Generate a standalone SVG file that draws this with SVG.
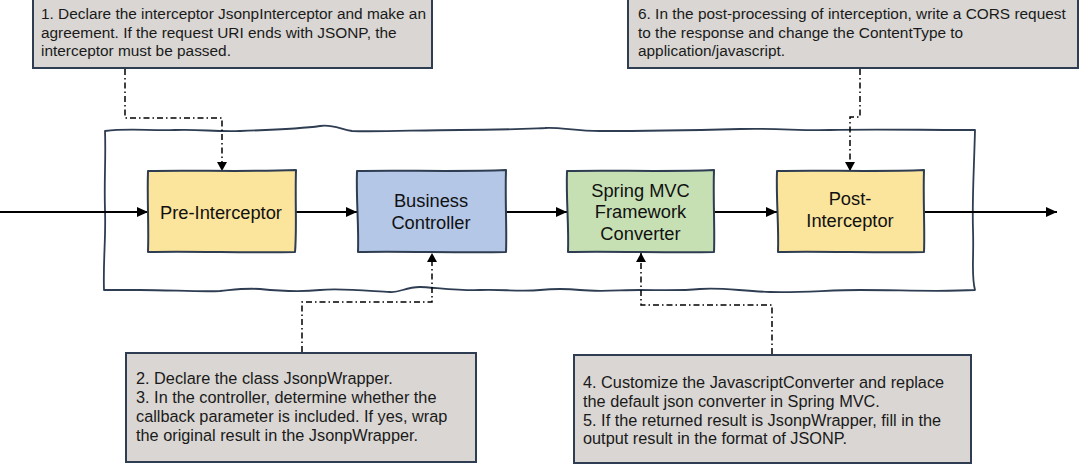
<svg xmlns="http://www.w3.org/2000/svg" width="1080" height="465" viewBox="0 0 1080 465">
<defs>
<style>
.note{fill:#d9d6d3;stroke:#2e3d52;stroke-width:2}
.nt{font-family:"Liberation Sans",Arial,sans-serif;fill:#1a1a1a}
.top{font-size:15.4px}
.bot{font-size:16.3px}
.nd{stroke:#2e3d52;stroke-width:2;stroke-linejoin:round}
.lbl{font-family:"Liberation Sans",Arial,sans-serif;font-size:18.3px;fill:#111;text-anchor:middle}
.flow{stroke:#000;stroke-width:2;fill:none}
.dash{stroke:#000;stroke-width:1.5;fill:none;stroke-dasharray:6 3 1.5 3}
.frame{stroke:#2e3d52;stroke-width:1.8;fill:none;stroke-linejoin:round}
</style>
<marker id="ah" markerUnits="userSpaceOnUse" markerWidth="11" markerHeight="10" refX="11" refY="5" orient="auto">
<path d="M0,0 L11,5 L0,10 Z" fill="#000"/>
</marker>
<marker id="ahs" markerUnits="userSpaceOnUse" markerWidth="9" markerHeight="10" refX="9" refY="5" orient="auto">
<path d="M0,0 L9,5 L0,10 Z" fill="#000"/>
</marker>
</defs>
<rect width="1080" height="465" fill="#fff"/>

<g id="frame">
<path class="frame" d="M105,131 C130,128 150,131 175,130 C200,129 215,132 240,131 C270,130 300,129 320,126 C332,124 340,129 352,131 C380,132 420,130 460,130 C500,130 520,129 545,128 C560,127 575,131 600,131 C640,131 700,130 740,129 C780,128 800,131 830,130 C870,129 920,130 975,130 C974,170 972,200 973,230 C974,260 971,275 975,290 C940,292 900,290 860,290 C830,290 800,293 770,292 C740,291 720,287 700,289 C680,291 660,290 640,290 C620,290 600,292 580,290 C560,288 550,289 540,290 C520,292 500,289 480,290 C460,291 430,287 420,287 C405,287 400,293 390,292 C370,291 340,288 320,290 C300,292 280,291 260,289 C245,288 240,289 220,291 C200,292 170,290 140,290 C125,290 115,290 104,290 C103,260 106,240 105,210 C104,180 106,160 105,131 Z"/>
</g>

<g id="connectors">
<line class="flow" x1="0" y1="212" x2="148" y2="212" marker-end="url(#ah)"/>
<line class="flow" x1="296" y1="212" x2="357" y2="212" marker-end="url(#ah)"/>
<line class="flow" x1="506" y1="212" x2="567" y2="212" marker-end="url(#ah)"/>
<line class="flow" x1="714" y1="212" x2="777" y2="212" marker-end="url(#ah)"/>
<line class="flow" x1="924" y1="212" x2="1057" y2="212" marker-end="url(#ah)"/>
<path class="dash" d="M125,69 L125,118 L222,118 L222,171" marker-end="url(#ahs)"/>
<path class="dash" d="M860,69 L860,117 L850,117 L850,171" marker-end="url(#ahs)"/>
<path class="dash" d="M302,352 L302,302 L432,302 L432,253" marker-end="url(#ahs)"/>
<path class="dash" d="M772,354 L772,305 L641,305 L641,253" marker-end="url(#ahs)"/>
</g>

<g id="note1">
<rect class="note" x="33" y="-1" width="399" height="69"/>
<text class="nt top" x="41" y="19">1. Declare the interceptor JsonpInterceptor and make an</text>
<text class="nt top" x="41" y="37.5">agreement. If the request URI ends with JSONP, the</text>
<text class="nt top" x="41" y="56">interceptor must be passed.</text>
</g>

<g id="note6">
<rect class="note" x="628" y="-1" width="450" height="69"/>
<text class="nt top" x="638" y="19">6. In the post-processing of interception, write a CORS request</text>
<text class="nt top" x="638" y="37.5">to the response and change the ContentType to</text>
<text class="nt top" x="638" y="56">application/javascript.</text>
</g>

<g id="note2">
<rect class="note" x="126" y="353" width="350" height="109"/>
<text class="nt bot" x="136" y="384">2. Declare the class JsonpWrapper.</text>
<text class="nt bot" x="136" y="403">3. In the controller, determine whether the</text>
<text class="nt bot" x="136" y="422">callback parameter is included. If yes, wrap</text>
<text class="nt bot" x="136" y="441">the original result in the JsonpWrapper.</text>
</g>

<g id="note4">
<rect class="note" x="574" y="355" width="397" height="108"/>
<text class="nt bot" x="583" y="388">4. Customize the JavascriptConverter and replace</text>
<text class="nt bot" x="583" y="407">the default json converter in Spring MVC.</text>
<text class="nt bot" x="583" y="425.5">5. If the returned result is JsonpWrapper, fill in the</text>
<text class="nt bot" x="583" y="444">output result in the format of JSONP.</text>
</g>

<g id="pre-interceptor">
<path class="nd" fill="#fbe49b" d="M148,171 C190,170 250,172 296,170 C295,200 297,230 295,252 C250,253 190,251 148,252 C149,225 147,200 148,171 Z"/>
<text class="lbl" x="221" y="218.5">Pre-Interceptor</text>
</g>

<g id="business-controller">
<path class="nd" fill="#b4c7e7" d="M357,171 C400,170 460,172 506,170 C505,200 507,230 506,252 C460,253 400,251 358,252 C359,225 356,200 357,171 Z"/>
<text class="lbl" x="431" y="207">Business</text>
<text class="lbl" x="431" y="228.5">Controller</text>
</g>

<g id="spring-converter">
<path class="nd" fill="#c6e0b4" d="M567,171 C610,170 670,172 714,170 C713,200 715,230 714,252 C670,253 610,251 568,252 C569,225 566,200 567,171 Z"/>
<text class="lbl" x="640.5" y="196.5">Spring MVC</text>
<text class="lbl" x="640.5" y="218">Framework</text>
<text class="lbl" x="640.5" y="239.5">Converter</text>
</g>

<g id="post-interceptor">
<path class="nd" fill="#fbe49b" d="M777,171 C820,170 880,172 924,170 C923,200 925,230 924,252 C880,253 820,251 778,252 C779,225 776,200 777,171 Z"/>
<text class="lbl" x="850" y="204.5">Post-</text>
<text class="lbl" x="850" y="226.5">Interceptor</text>
</g>
</svg>
